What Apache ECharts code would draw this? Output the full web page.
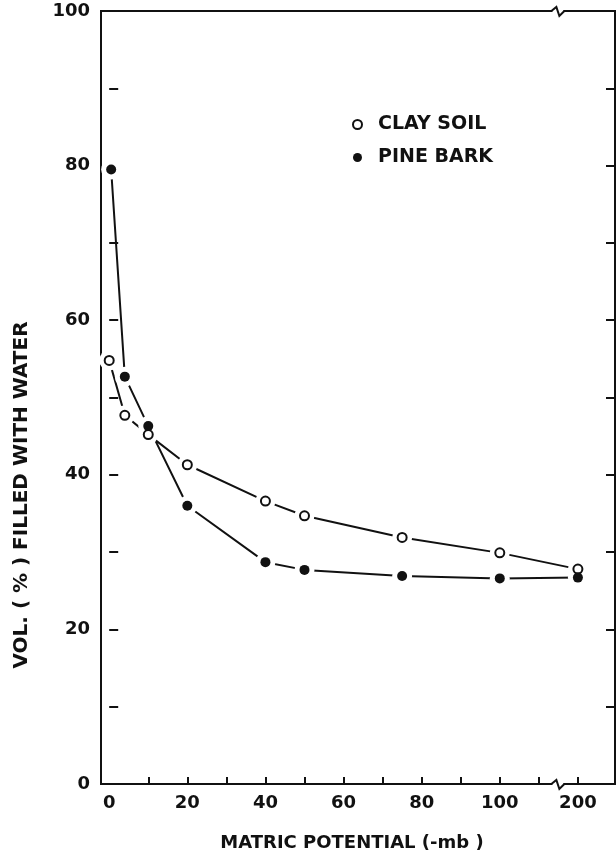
<!DOCTYPE html>
<html><head><meta charset="utf-8">
<script src="https://cdn.jsdelivr.net/npm/echarts@6/dist/echarts.min.js"></script>
<style>html,body{margin:0;padding:0;background:#fff}#c{width:616px;height:857px}</style>
</head><body><div id="c"></div>
<script>
const seriesNames = ['CLAY SOIL', 'PINE BARK'];
const clayX = [0, 4, 10, 20, 40, 50, 75, 100, 200];
const clayY = [54.8, 47.7, 45.2, 41.3, 36.6, 34.7, 31.9, 29.9, 27.8];
const barkX = [0.5, 4, 10, 20, 40, 50, 75, 100, 200];
const barkY = [79.5, 52.7, 46.3, 36.0, 28.7, 27.7, 26.9, 26.6, 26.7];
const xTickValues = [10, 20, 30, 40, 50, 60, 70, 80, 90, 100, 110, 200];
const xLabelValues = [0, 20, 40, 60, 80, 100, 200];
const yLabelValues = [0, 20, 40, 60, 80, 100];
const xTitle = 'MATRIC POTENTIAL (-mb )';
const yTitle = 'VOL. ( % ) FILLED WITH WATER';

const INK = '#111';
const FONT = 'DejaVu Sans';
const zip = (xs, ys) => xs.map((x, i) => [x, ys[i]]);
const clay = zip(clayX, clayY);
const bark = zip(barkX, barkY);

const chart = echarts.init(document.getElementById('c'), null, {renderer: 'canvas'});
const option = {
  animation: false,
  backgroundColor: '#fff',
  grid: {left: 101, right: 1, top: 11, bottom: 71, show: true, borderColor: INK, borderWidth: 2, backgroundColor: 'transparent'},
  legend: {
    data: seriesNames, orient: 'vertical', left: 352, top: 115, padding: 0,
    itemWidth: 9, itemHeight: 9, itemGap: 14, icon: 'circle', selectedMode: false,
    textStyle: {fontFamily: FONT, fontSize: 19, fontWeight: 'bold', color: INK, padding: [0, 0, 0, 11]}
  },
  xAxis: {
    type: 'value', min: -2.1, max: 209.5,
    breaks: [{start: 115, end: 195, gap: 0}],
    breakArea: {show: false},
    axisLine: {show: false},
    axisTick: {inside: true, length: 7, customValues: xTickValues, lineStyle: {color: INK, width: 2}},
    axisLabel: {customValues: xLabelValues, margin: 10, fontSize: 18, fontWeight: 'bold', color: INK, fontFamily: FONT},
    splitLine: {show: false},
    name: xTitle, nameLocation: 'middle', nameGap: 50,
    nameTextStyle: {fontFamily: FONT, fontSize: 18, fontWeight: 'bold', color: INK, padding: [0, 12, 0, 0]}
  },
  yAxis: [{
    type: 'value', min: 0, max: 100, interval: 10,
    axisLine: {show: false},
    axisTick: {inside: true, length: 9, lineStyle: {color: INK, width: 2}},
    axisLabel: {customValues: yLabelValues, margin: 11, fontSize: 18, fontWeight: 'bold', color: INK, fontFamily: FONT},
    splitLine: {show: false}
  }, {
    type: 'value', min: 0, max: 100, interval: 10, position: 'right',
    axisLine: {show: false},
    axisTick: {inside: true, length: 9, lineStyle: {color: INK, width: 2}},
    axisLabel: {show: false},
    splitLine: {show: false}
  }],
  series: [
    {name: 'clay-line', type: 'line', data: clay, symbol: 'none', lineStyle: {color: INK, width: 2}, z: 2, silent: true},
    {name: 'bark-line', type: 'line', data: bark, symbol: 'none', lineStyle: {color: INK, width: 2}, z: 2, silent: true},
    {name: 'clay-halo', type: 'scatter', data: clay, symbolSize: 20, itemStyle: {color: '#fff', opacity: 1}, z: 3, silent: true},
    {name: 'bark-halo', type: 'scatter', data: bark, symbolSize: 20, itemStyle: {color: '#fff', opacity: 1}, z: 3, silent: true},
    {name: seriesNames[0], type: 'scatter', data: clay, symbolSize: 9, itemStyle: {color: '#fff', borderColor: INK, borderWidth: 2, opacity: 1}, z: 5},
    {name: seriesNames[1], type: 'scatter', data: bark, symbolSize: 10, itemStyle: {color: INK, opacity: 1}, z: 5}
  ]
};
chart.setOption(option);

// axis-break marks on the top and bottom frame lines, plus rotated y title
const bx = chart.convertToPixel({xAxisIndex: 0}, 115);
const yTop = chart.convertToPixel({yAxisIndex: 0}, 100);
const yBot = chart.convertToPixel({yAxisIndex: 0}, 0);
function breakMark(y) {
  return [
    {type: 'rect', shape: {x: bx - 6, y: y - 3, width: 11, height: 6}, style: {fill: '#fff'}, z: 100},
    {type: 'polyline', shape: {points: [[bx - 7, y], [bx - 2, y - 4], [bx + 1, y + 5], [bx + 6, y]]}, style: {stroke: INK, lineWidth: 2, fill: null}, z: 101}
  ];
}
chart.setOption({
  graphic: [].concat(breakMark(yTop), breakMark(yBot), [{
    type: 'text', x: 22, y: 495, rotation: Math.PI / 2,
    style: {text: yTitle, font: 'bold 20px "DejaVu Sans"', fill: INK, align: 'center', verticalAlign: 'middle'}
  }])
});
</script></body></html>
